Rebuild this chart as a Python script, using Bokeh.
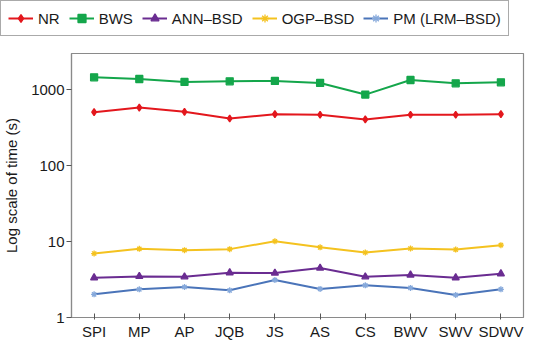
from bokeh.plotting import figure
from bokeh.layouts import column
from bokeh.models import Legend, LegendItem, FixedTicker, NumeralTickFormatter, ColumnDataSource, Range1d
from bokeh.embed import file_html
from bokeh.resources import INLINE

categories = ["SPI", "MP", "AP", "JQB", "JS", "AS", "CS", "BWV", "SWV", "SDWV"]
nr = [506, 582, 512, 418, 476, 468, 406, 468, 468, 476]
bws = [1455, 1385, 1265, 1290, 1305, 1228, 863, 1343, 1213, 1250]
ann_bsd = [3.34, 3.48, 3.44, 3.89, 3.85, 4.48, 3.44, 3.63, 3.34, 3.77]
ogp_bsd = [6.96, 8.02, 7.7, 7.95, 10.1, 8.4, 7.18, 8.1, 7.85, 8.96]
pm_lrm_bsd = [2.02, 2.35, 2.52, 2.28, 3.12, 2.38, 2.65, 2.45, 1.98, 2.35]
series_names = ["NR", "BWS", "ANN\u2013BSD", "OGP\u2013BSD", "PM (LRM\u2013BSD)"]
y_ticks = [1, 10, 100, 1000]

FONT = "Liberation Sans"
NAN = float("nan")

# Legend strip on top
leg = figure(width=534, height=52, x_range=Range1d(0, 1), y_range=Range1d(0, 1),
             output_backend="svg", toolbar_location=None,
             x_axis_location=None, y_axis_location=None,
             min_border_left=0, min_border_right=0, min_border_top=0,
             min_border_bottom=0, frame_align=False)
leg.outline_line_color = None
leg.xgrid.grid_line_color = None
leg.ygrid.grid_line_color = None

p = figure(width=534, height=293, x_range=categories, y_axis_type="log",
           y_range=(1, 3000), output_backend="svg", toolbar_location=None,
           min_border_left=65, min_border_right=11, min_border_top=1,
           min_border_bottom=28, frame_align=False)

p.xgrid.grid_line_color = None
p.ygrid.grid_line_color = None
p.outline_line_color = "#8a8a8a"
p.outline_line_width = 1.2

styles = [
    (nr, "#e3171d", "#e3171d", "diamond", 7),
    (bws, "#14a64b", "#14a64b", "square", 7),
    (ann_bsd, "#6a2c91", "#6a2c91", "triangle", 7),
    (ogp_bsd, "#f4c21f", "#f4c21f", "asterisk", 6),
    (pm_lrm_bsd, "#4a74b9", "#86a9db", "asterisk", 6),
]

items = []
for name, (vals, lc, mc, marker, size) in zip(series_names, styles):
    src = ColumnDataSource(dict(x=categories, y=vals))
    p.line("x", "y", source=src, line_color=lc, line_width=2)
    p.scatter("x", "y", source=src, marker=marker, size=size,
              fill_color=mc, line_color=mc, line_width=1.3)
    dummy = ColumnDataSource(dict(x=[NAN], y=[NAN]))
    lr = leg.line("x", "y", source=dummy, line_color=lc, line_width=2)
    mr = leg.scatter("x", "y", source=dummy, marker=marker, size=size,
                     fill_color=mc, line_color=mc, line_width=1.3)
    items.append(LegendItem(label=name, renderers=[lr, mr]))

legend = Legend(items=items, orientation="horizontal", location=(0, 16),
                label_text_font=FONT, label_text_font_size="15px",
                label_text_color="#1a1a1a",
                glyph_width=25, glyph_height=20, label_height=20,
                label_standoff=5, spacing=9, padding=7, margin=0,
                border_line_color="#555555", border_line_width=1,
                background_fill_alpha=1.0)
leg.add_layout(legend, "center")

for ax in (p.xaxis[0], p.yaxis[0]):
    ax.axis_line_color = "#8a8a8a"
    ax.axis_line_width = 1.2
    ax.major_tick_line_color = "#555555"
    ax.minor_tick_line_color = None
    ax.major_label_text_font = FONT
    ax.major_label_text_font_size = "15px"
    ax.major_label_text_color = "#1a1a1a"

p.xaxis.major_tick_in = 4
p.xaxis.major_tick_out = 2
p.xaxis.major_label_standoff = 3

p.yaxis.ticker = FixedTicker(ticks=y_ticks)
p.yaxis.formatter = NumeralTickFormatter(format="0")
p.yaxis.major_tick_in = 0
p.yaxis.major_tick_out = 5
p.yaxis.major_label_standoff = 2
p.yaxis.axis_label = "Log scale of time (s)"
p.yaxis.axis_label_text_font = FONT
p.yaxis.axis_label_text_font_size = "15px"
p.yaxis.axis_label_text_font_style = "normal"
p.yaxis.axis_label_text_color = "#1a1a1a"
p.yaxis.axis_label_standoff = 8

layout = column(leg, p, spacing=0)
open("out.html", "w").write(file_html(layout, INLINE))
